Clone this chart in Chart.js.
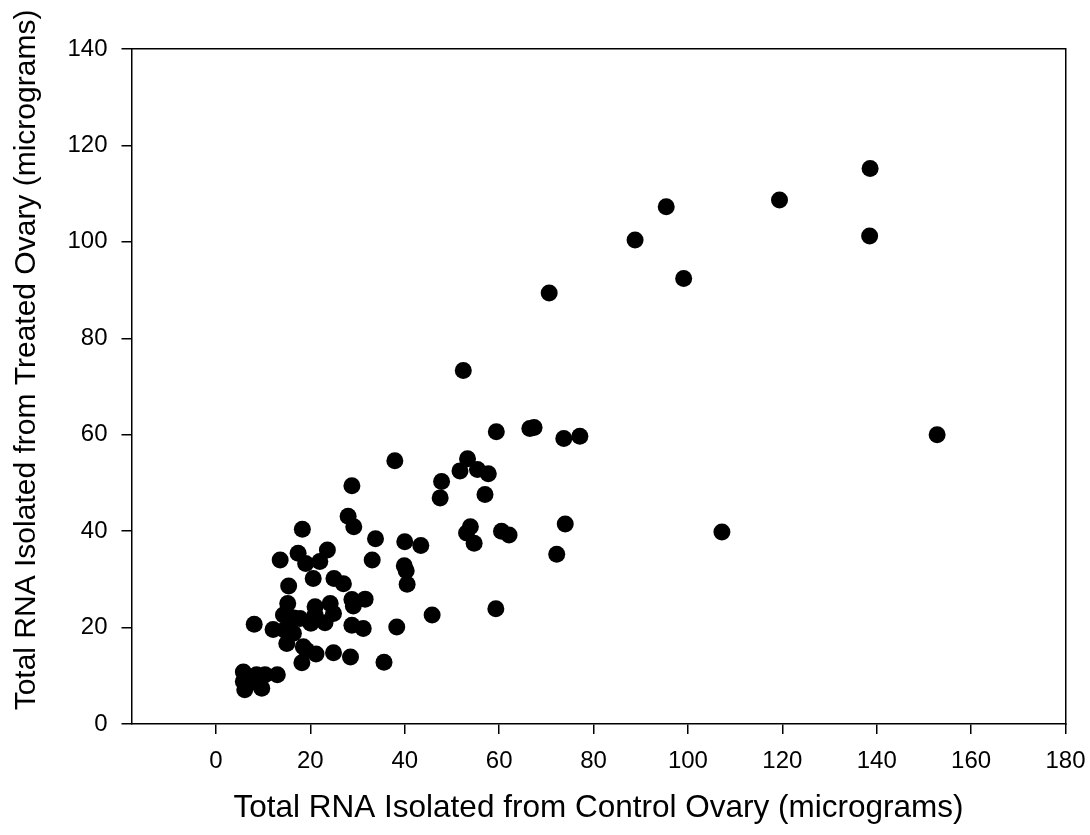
<!DOCTYPE html>
<html>
<head>
<meta charset="utf-8">
<script src="https://cdn.jsdelivr.net/npm/chart.js@4/dist/chart.umd.min.js"></script>
<style>
  html, body { margin: 0; padding: 0; background: #fff; }
  #wrap { width: 1090px; height: 835px; }
</style>
</head>
<body>
<div id="wrap"><canvas id="myChart"></canvas></div>
<script>
// control ovary RNA (x) vs treated ovary RNA (y), micrograms
const controlRNA = [
  152.8, 138.6, 138.5, 119.4, 95.4, 88.8, 99.1, 70.6, 52.4, 107.2,
  73.7, 77.1, 66.5, 67.4, 59.4,
  37.9, 53.3, 51.7, 55.4, 57.7, 47.8, 47.5, 57.0,
  74.0, 72.2, 53.9, 53.1, 54.7, 60.5, 62.1, 59.3, 45.8, 38.3,
  33.8, 33.1, 40.0, 43.4, 39.9, 40.3, 40.5,
  28.8, 28.0, 29.2, 18.3,
  13.6, 17.4, 23.6, 19.0, 22.0, 20.6, 15.4, 25.0, 27.0,
  15.2, 14.3, 8.1, 12.1, 17.8, 21.0, 24.2, 23.1, 28.8, 31.6, 29.1, 28.8, 31.2,
  35.6, 24.9, 28.5, 21.2, 18.2, 18.5, 15.0, 16.4, 19.2, 20.1, 21.0, 24.9,
  14.5, 16.5,
  5.8, 8.6, 10.4, 13.0, 6.1, 9.7, 5.8, 8.0
];
const treatedRNA = [
  60.0, 115.2, 101.2, 108.7, 107.3, 100.4, 92.4, 89.4, 73.3, 39.8,
  59.2, 59.7, 61.3, 61.5, 60.6,
  54.6, 55.0, 52.5, 52.8, 51.9, 50.3, 46.9, 47.6,
  41.5, 35.2, 40.9, 39.6, 37.5, 40.0, 39.2, 23.9, 22.6, 20.1,
  38.4, 34.0, 37.8, 37.0, 32.8, 31.8, 29.0,
  49.4, 43.1, 40.9, 40.4,
  34.0, 35.4, 36.1, 33.3, 33.7, 30.2, 28.6, 30.2, 29.1,
  25.0, 22.6, 20.7, 19.6, 21.9, 24.3, 25.0, 21.0, 25.8, 25.9, 24.5, 20.5, 19.8,
  12.8, 14.8, 13.9, 14.5, 12.7, 16.0, 16.7, 18.8, 15.3, 20.9, 22.6, 22.9,
  19.5, 22.0,
  10.8, 10.2, 10.2, 10.2, 7.1, 7.4, 8.8, 8.7
];
const xTicks = [0, 20, 40, 60, 80, 100, 120, 140, 160, 180];
const yTicks = [0, 20, 40, 60, 80, 100, 120, 140];
const xTitle = 'Total RNA Isolated from Control Ovary (micrograms)';
const yTitle = 'Total RNA Isolated from Treated Ovary (micrograms)';

const points = controlRNA.map((x, i) => ({ x: x, y: treatedRNA[i] }));

const ctx = document.getElementById('myChart');
const fam = "'Liberation Sans', Arial, sans-serif";

const axisGrid = { drawOnChartArea: false, color: '#000', tickLength: 10, lineWidth: 1.5 };
const axisBorder = { color: '#000', width: 1.5 };

// y title sits a bit above the plot's middle in the original, so draw it by hand
const yTitlePlugin = {
  id: 'yTitle',
  afterDraw(chart) {
    const c = chart.ctx;
    c.save();
    c.translate(27, 360);
    c.rotate(-Math.PI / 2);
    c.font = '30px ' + fam;
    c.fillStyle = '#000';
    c.textAlign = 'center';
    c.textBaseline = 'middle';
    c.fillText(yTitle, 0, 0);
    c.restore();
  }
};

new Chart(ctx, {
  type: 'scatter',
  data: {
    datasets: [{
      data: points,
      backgroundColor: '#000',
      borderColor: '#000',
      borderWidth: 0,
      pointRadius: 8.5,
      pointHoverRadius: 8.5
    }]
  },
  plugins: [yTitlePlugin],
  options: {
    responsive: true,
    maintainAspectRatio: false,
    animation: false,
    layout: { padding: { left: 0, right: 24.5, top: 49, bottom: 0 } },
    plugins: { legend: { display: false }, tooltip: { enabled: false } },
    scales: {
      x: {
        type: 'linear',
        position: 'bottom',
        min: -17.9,
        max: 180,
        afterBuildTicks: (scale) => { scale.ticks = xTicks.map(v => ({ value: v })); },
        afterFit: (scale) => {
          scale.height = 111;
          scale.paddingLeft = 0;
          scale.paddingRight = 0;
        },
        grid: axisGrid,
        border: axisBorder,
        ticks: { color: '#000', font: { family: fam, size: 24 }, padding: 13, maxRotation: 0 },
        title: {
          display: true,
          text: xTitle,
          color: '#000',
          font: { family: fam, size: 31.5 },
          padding: { top: 0, bottom: 8 }
        }
      },
      y: {
        type: 'linear',
        position: 'left',
        min: 0,
        max: 140,
        afterBuildTicks: (scale) => { scale.ticks = yTicks.map(v => ({ value: v })); },
        afterFit: (scale) => {
          scale.width = 131.5;
          scale.paddingTop = 0;
          scale.paddingBottom = 0;
        },
        grid: axisGrid,
        border: axisBorder,
        ticks: { color: '#000', font: { family: fam, size: 24 }, padding: 14 }
      },
      x2: {
        type: 'linear',
        position: 'top',
        min: -17.9,
        max: 180,
        afterFit: (scale) => { scale.height = 0; },
        grid: { display: false },
        border: axisBorder,
        ticks: { display: false }
      },
      y2: {
        type: 'linear',
        position: 'right',
        min: 0,
        max: 140,
        afterFit: (scale) => { scale.width = 0; },
        grid: { display: false },
        border: axisBorder,
        ticks: { display: false }
      }
    }
  }
});
</script>
</body>
</html>
